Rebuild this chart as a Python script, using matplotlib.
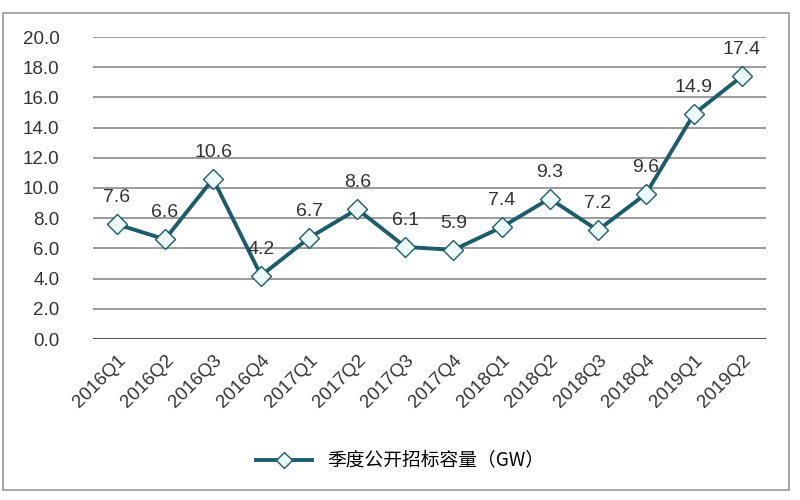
import matplotlib.pyplot as plt
from matplotlib.patches import Rectangle

quarters = ['2016Q1', '2016Q2', '2016Q3', '2016Q4', '2017Q1', '2017Q2', '2017Q3',
            '2017Q4', '2018Q1', '2018Q2', '2018Q3', '2018Q4', '2019Q1', '2019Q2']
capacity = [7.6, 6.6, 10.6, 4.2, 6.7, 8.6, 6.1, 5.9, 7.4, 9.3, 7.2, 9.6, 14.9, 17.4]
series_name = '季度公开招标容量（GW）'

plt.rcParams['font.family'] = ['Liberation Sans', 'Noto Sans CJK SC', 'DejaVu Sans']

fig = plt.figure(figsize=(8, 5), dpi=100)
ax = fig.add_axes([0.116, 0.322, 0.8415, 0.604])

x = list(range(len(quarters)))
ax.plot(x, capacity, color='#1d5c6b', linewidth=2.8, marker='D', markersize=10.5,
        markerfacecolor='#eefbfd', markeredgecolor='#1d5c6b', markeredgewidth=1.0,
        label=series_name, zorder=3)

for xi, v in zip(x, capacity):
    ax.annotate(f'{v:.1f}', (xi, v), xytext=(0, 13), textcoords='offset points',
                ha='center', va='bottom', fontsize=14, color='#333333')

ax.set_xlim(-0.5, len(quarters) - 0.5)
ax.set_ylim(0, 20)
ax.set_yticks([i * 2 for i in range(11)])
ax.set_yticklabels([f'{i * 2:.1f}' for i in range(11)], fontsize=13.5, color='#333333')
ax.set_xticks(x)
ax.set_xticklabels(quarters, rotation=45, ha='right', rotation_mode='anchor',
                   fontsize=13.5, color='#333333')
ax.tick_params(axis='y', length=0, pad=24)
ax.tick_params(axis='x', length=0, pad=9)
for s in ax.spines.values():
    s.set_visible(False)
ax.grid(axis='y', color='#8a8a8a', linewidth=1.2)
ax.axhline(0, color='#555555', linewidth=1.5)
ax.set_axisbelow(True)

leg = fig.legend(loc='center', bbox_to_anchor=(0.5, 0.078), frameon=False,
                 prop={'family': ['Noto Sans CJK SC', 'DejaVu Sans'], 'size': 13.5},
                 handlelength=3.0, markerscale=0.8)

fig.patches.append(Rectangle((0.004, 0.02), 0.9825, 0.954, transform=fig.transFigure,
                             fill=False, edgecolor='#999999', linewidth=1.2))

fig.savefig('out.png', dpi=100)
